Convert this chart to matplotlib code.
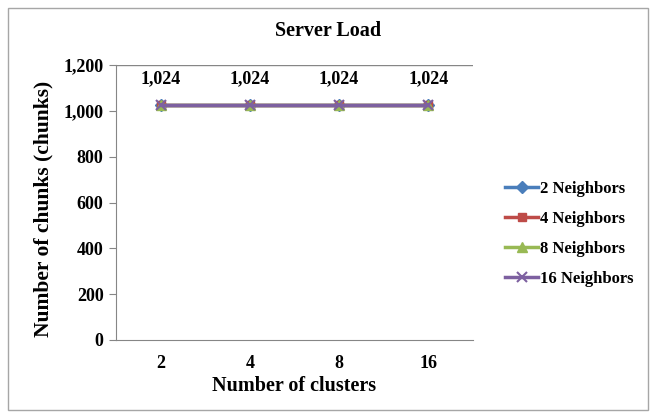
import matplotlib.pyplot as plt
from matplotlib.patches import Rectangle

clusters = ["2", "4", "8", "16"]
n2 = [1024, 1024, 1024, 1024]
n4 = [1024, 1024, 1024, 1024]
n8 = [1024, 1024, 1024, 1024]
n16 = [1024, 1024, 1024, 1024]
series_names = ["2 Neighbors", "4 Neighbors", "8 Neighbors", "16 Neighbors"]

plt.rcParams["font.family"] = ["Liberation Serif", "DejaVu Serif"]
plt.rcParams["font.weight"] = "bold"

fig = plt.figure(figsize=(6.55, 4.18), dpi=100)
fig.patches.append(Rectangle((8 / 655, 8 / 418), 640 / 655, 402 / 418, transform=fig.transFigure,
                             fill=False, edgecolor="#a6a6a6", linewidth=1.0))

ax = fig.add_axes((116 / 655, 1 - 340 / 418, 357 / 655, 275 / 418))
x = range(len(clusters))

styles = [
    (n2, "#4a7ebb", "D", 6),
    (n4, "#be4b48", "s", 6),
    (n8, "#98b954", "^", 7),
    (n16, "#7d60a0", "x", 7),
]
for (vals, color, marker, ms), name in zip(styles, series_names):
    ax.plot(x, vals, color=color, marker=marker, markersize=ms, linewidth=2.5,
            markeredgewidth=1.5 if marker == "x" else 1, label=name)

for i, v in enumerate(n16):
    ax.annotate(f"{v:,}", (i, v), xytext=(0, 13), textcoords="offset points",
                ha="center", va="bottom", fontsize=13, fontweight="bold")

ax.set_xlim(-0.5, len(clusters) - 0.5)
ax.set_ylim(0, 1200)
ax.set_yticks(range(0, 1201, 200))
ax.set_yticklabels([f"{t:,}" for t in range(0, 1201, 200)])
ax.set_xticks(list(x))
ax.set_xticklabels(clusters)
ax.axhline(1200, color="#868686", linewidth=1.0)

for s in ["top", "right"]:
    ax.spines[s].set_visible(False)
for s in ["left", "bottom"]:
    ax.spines[s].set_color("#868686")
ax.tick_params(axis="y", length=5, color="#868686", labelsize=13, pad=4)
ax.tick_params(axis="x", length=0, labelsize=13, pad=11)

fig.text(328 / 655, 1 - 31 / 418, "Server Load", fontsize=14.5, fontweight="bold",
         ha="center", va="center")
ax.set_xlabel("Number of clusters", fontsize=14.5, fontweight="bold", labelpad=3)
ax.set_ylabel("Number of chunks (chunks)", fontsize=15.5, fontweight="bold")
ax.yaxis.set_label_coords(-0.175, 0.478)

fig.legend(loc="center left", bbox_to_anchor=(490 / 655, 1 - 234 / 418), frameon=False,
           fontsize=12, handlelength=2.0, handletextpad=0.1, labelspacing=0.85)

fig.savefig("out.png", dpi=100)
